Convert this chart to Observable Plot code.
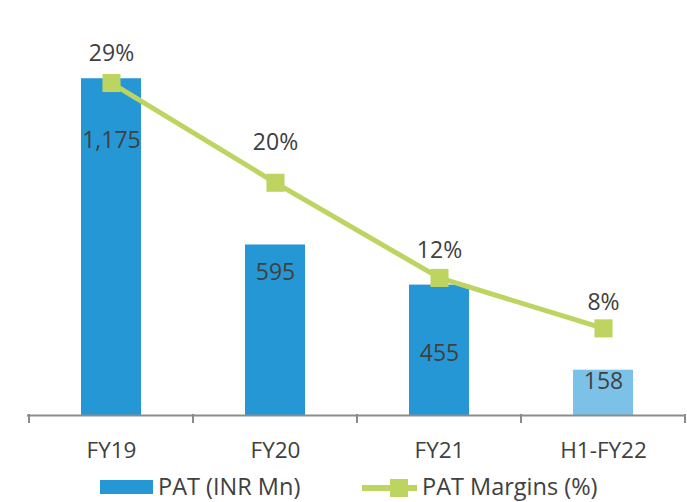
<!DOCTYPE html>
<html><head><meta charset="utf-8">
<script src="https://cdn.jsdelivr.net/npm/d3@7"></script>
<script src="https://cdn.jsdelivr.net/npm/@observablehq/plot@0.6"></script>
<style>
body{margin:0;background:#fff;font-family:"Open Sans",sans-serif;overflow:hidden;}
#chart{position:relative;width:687px;height:502px;}
#legend{position:absolute;left:0;top:465px;}
</style></head><body><div id="chart"></div>
<script>
const periods = ["FY19", "FY20", "FY21", "H1-FY22"];
const pat = [1175, 595, 455, 158];
const margins = [29.0, 20.3, 12.0, 7.6];
const barColors = ["#2697d5", "#2697d5", "#2697d5", "#7cc2e8"];
const seriesNames = ["PAT (INR Mn)", "PAT Margins (%)"];

const lineColor = "#bed461";
const textColor = "#404040";
const yMax = 1448;        // primary axis top (INR Mn)
const marginMax = 36.2;   // secondary axis top (%)

const data = periods.map((p, i) => ({
  period: p,
  pat: pat[i],
  margin: margins[i],
  mY: margins[i] * yMax / marginMax,
  patLabel: d3.format(",")(pat[i]),
  mLabel: Math.round(margins[i]) + "%",
  color: barColors[i]
}));

// label offsets (styling)
const barLabelDy = [69, 35.5, 76.4, 18.6];
const pctLabelDy = [22.5, 33, 20, 18.3];

function boundaryTicks(index, scales, values, dimensions) {
  const x = scales.x, y = scales.y;
  const step = x(periods[1]) - x(periods[0]);
  const xs = periods.map(p => x(p)).concat([x(periods[periods.length - 1]) + step]);
  const y0 = y(0);
  const g = d3.create("svg:g");
  g.selectAll("line").data(xs).join("line")
    .attr("x1", d => d).attr("x2", d => d)
    .attr("y1", y0 - 1).attr("y2", y0 + 8)
    .attr("stroke", "#8c8c8c").attr("stroke-width", 2);
  return g.node();
}

const plot = Plot.plot({
  width: 687,
  height: 465,
  marginLeft: 27,
  marginRight: 1,
  marginTop: 0,
  marginBottom: 50,
  x: {domain: periods, padding: 0},
  y: {domain: [0, yMax], axis: null},
  style: {fontFamily: "Open Sans", fontSize: "22.5px", color: textColor, overflow: "visible", background: "#fff"},
  marks: [
    Plot.barY(data, {x: "period", y: "pat", fill: "color", insetLeft: 52, insetRight: 52}),
    Plot.ruleY([0], {stroke: "#8c8c8c", strokeWidth: 2}),
    boundaryTicks,
    Plot.axisX({tickSize: 0, tickPadding: 27, fontSize: 22.5, fill: textColor, label: null}),
    ...data.map((d, i) => Plot.text([d], {x: "period", y: "pat", text: "patLabel", lineAnchor: "bottom", dy: barLabelDy[i], fill: textColor, fontSize: 23})),
    Plot.line(data, {x: "period", y: "mY", stroke: lineColor, strokeWidth: 5}),
    Plot.dot(data, {x: "period", y: "mY", symbol: "square", r: 10.2, fill: lineColor, stroke: "none"}),
    ...data.map((d, i) => Plot.text([d], {x: "period", y: "mY", text: "mLabel", lineAnchor: "bottom", dy: -pctLabelDy[i], fill: textColor, fontSize: 23}))
  ]
});

const chart = document.getElementById("chart");
chart.appendChild(plot);

// legend below the chart
const leg = d3.select(chart).append("svg").attr("id", "legend")
  .attr("width", 687).attr("height", 37)
  .style("font-family", "Open Sans").style("font-size", "23.5px");
leg.append("rect").attr("x", 100).attr("y", 15).attr("width", 53).attr("height", 14).attr("fill", barColors[0]);
leg.append("text").attr("x", 158).attr("y", 30).attr("fill", textColor).text(seriesNames[0]);
leg.append("line").attr("x1", 362).attr("x2", 417).attr("y1", 23).attr("y2", 23).attr("stroke", lineColor).attr("stroke-width", 6);
leg.append("rect").attr("x", 390).attr("y", 14).attr("width", 18).attr("height", 18).attr("fill", lineColor);
leg.append("text").attr("x", 422).attr("y", 30).attr("fill", textColor).text(seriesNames[1]);
</script></body></html>
